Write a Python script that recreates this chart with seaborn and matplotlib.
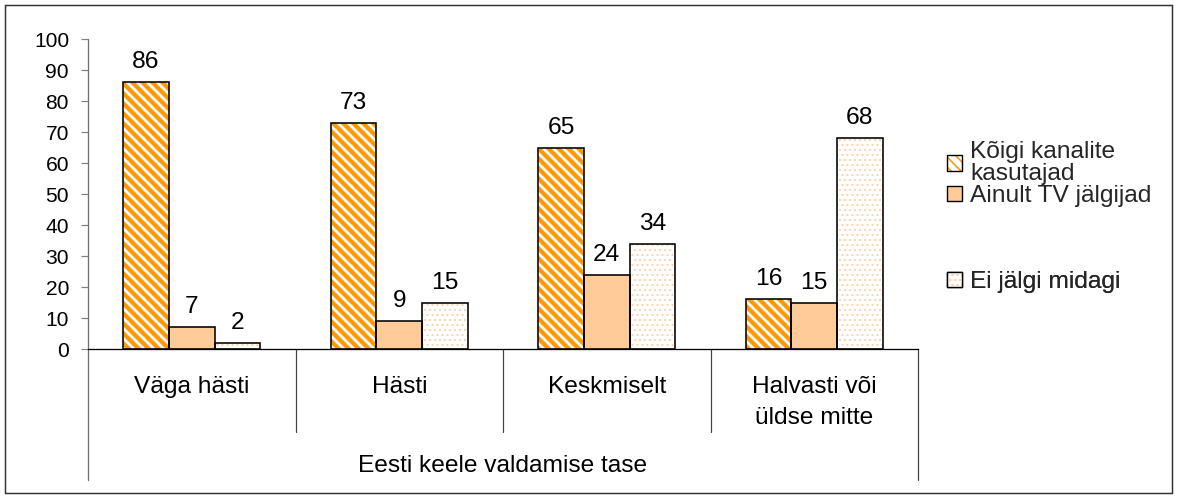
import matplotlib
matplotlib.use("Agg")
import matplotlib.pyplot as plt
import seaborn as sns
import pandas as pd
from matplotlib.patches import Rectangle, Patch
from matplotlib.lines import Line2D
from matplotlib.legend_handler import HandlerTuple

# ---------------- data ----------------
categories = ["Väga hästi", "Hästi", "Keskmiselt", "Halvasti või\nüldse mitte"]
series = ["Kõigi kanalite\nkasutajad", "Ainult TV jälgijad", "Ei jälgi midagi"]
all_channels = [86, 73, 65, 16]
tv_only = [7, 9, 24, 15]
nothing = [2, 15, 34, 68]
y_ticks = [0, 10, 20, 30, 40, 50, 60, 70, 80, 90, 100]
x_title = "Eesti keele valdamise tase"

# ---------------- setup ----------------
DPI = 120
W, H = 1178, 498
PT = 72 / DPI  # points per pixel

sns.set_theme(style="white")
plt.rcParams['font.family'] = ['Liberation Sans', 'DejaVu Sans']

rows = []
for s, vals in zip(series, [all_channels, tv_only, nothing]):
    for c, v in zip(categories, vals):
        rows.append({"cat": c, "series": s, "val": v})
df = pd.DataFrame(rows)

fig = plt.figure(figsize=(W / DPI, H / DPI), dpi=DPI)
fig.patch.set_facecolor("white")
ax = fig.add_axes([88 / W, 1 - 349 / H, 830 / W, 310 / H])

sns.barplot(data=df, x="cat", y="val", hue="series", order=categories,
            hue_order=series, palette=["white", "#FFCC99", "white"],
            width=0.66, saturation=1, errorbar=None, legend=False, ax=ax)

styles = [
    dict(face="white", hatch="\\\\\\\\", hc="#FF9900", hlw=4.3 * PT),
    dict(face="#FFCC99", hatch=None, hc="black", hlw=1.0),
    dict(face="white", hatch="....", hc="#FFD2A8", hlw=1.2 * PT),
]

LABEL_PX = 24.5
TICK_PX = 21.0

for cont, st, vals in zip(ax.containers, styles, [all_channels, tv_only, nothing]):
    for p in cont.patches:
        p.set_facecolor(st["face"])
        p.set_edgecolor(st["hc"])
        p.set_linewidth(0)
        if st["hatch"]:
            p.set_hatch(st["hatch"])
            if hasattr(p, "set_hatch_linewidth"):
                p.set_hatch_linewidth(st["hlw"])
        ax.add_patch(Rectangle(p.get_xy(), p.get_width(), p.get_height(),
                               fill=False, edgecolor="black",
                               linewidth=1.6 * PT, zorder=p.get_zorder() + 0.1))
    ax.bar_label(cont, labels=[str(v) for v in vals], padding=9 * PT,
                 fontsize=LABEL_PX * PT, color="black")

# ---------------- axes ----------------
ax.set_xlim(-0.5, 3.5)
ax.set_ylim(0, 100)
ax.set_yticks(y_ticks)
ax.set_xlabel("")
ax.set_ylabel("")
for side in ["top", "right", "left"]:
    ax.spines[side].set_visible(False)
ax.spines["bottom"].set_color("black")
ax.spines["bottom"].set_linewidth(1.3 * PT)

ax.tick_params(axis="y", which="major", left=True, direction="out",
               length=7 * PT, width=1.2 * PT, color="#808080",
               pad=12 * PT, labelsize=TICK_PX * PT, labelcolor="black")
ax.tick_params(axis="x", length=0, pad=27 * PT, labelsize=LABEL_PX * PT,
               labelcolor="black")
for t in ax.get_xticklabels():
    t.set_linespacing(1.5)

xt = ax.get_xaxis_transform()
# left axis line (extends down through the category area)
ax.add_line(Line2D([-0.5, -0.5], [-131 / 310, 1.0], transform=xt,
                   color="#707070", lw=1.3 * PT, clip_on=False))
# separators
for xb in [0.5, 1.5, 2.5]:
    ax.add_line(Line2D([xb, xb], [-83 / 310, 0], transform=xt,
                       color="#404040", lw=1.2 * PT, clip_on=False))
ax.add_line(Line2D([3.5, 3.5], [-131 / 310, 0], transform=xt,
                   color="#404040", lw=1.2 * PT, clip_on=False))

ax.text(0.5, (349 - 466) / 310, x_title, transform=ax.transAxes,
        ha="center", va="center", fontsize=LABEL_PX * PT, color="black")

# ---------------- legend ----------------
def handle(i):
    st = styles[i]
    base = Patch(facecolor=st["face"], edgecolor=st["hc"], linewidth=0,
                 hatch=st["hatch"])
    outline = Patch(facecolor="none", edgecolor="black", linewidth=1.4 * PT)
    return (base, outline)

leg_y = [163, 196, 282]
for i, y in enumerate(leg_y):
    lg = ax.legend([handle(i)], [series[i]],
                   handler_map={tuple: HandlerTuple(ndivide=1)},
                   loc="center left", bbox_to_anchor=(947 / W, 1 - y / H),
                   bbox_transform=fig.transFigure, frameon=False,
                   fontsize=LABEL_PX * PT, handlelength=0.6,
                   handleheight=0.6, handletextpad=0.35,
                   borderpad=0, borderaxespad=0)
    for t in lg.get_texts():
        t.set_linespacing(1.03)
    ax.add_artist(lg)

# ---------------- outer frame ----------------
fig.add_artist(Rectangle((5 / W, 5 / H), (1172 - 5) / W, (493 - 5) / H,
                         transform=fig.transFigure, fill=False,
                         edgecolor="#333333", linewidth=1.5 * PT))

fig.savefig("out.png", dpi=DPI)
